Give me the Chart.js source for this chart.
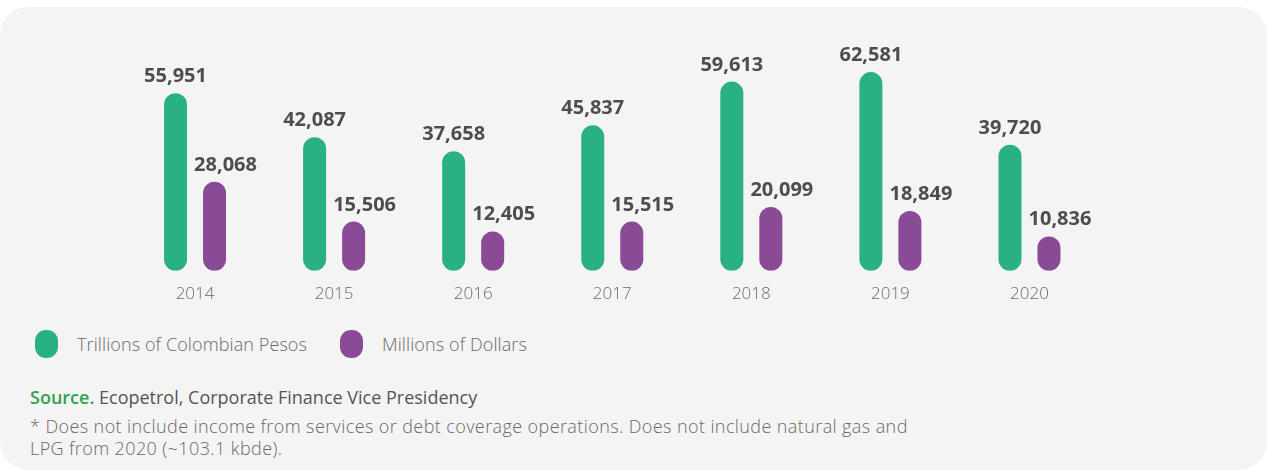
<!DOCTYPE html>
<html>
<head>
<meta charset="utf-8">
<script src="https://cdn.jsdelivr.net/npm/chart.js@4"></script>
<style>
  html, body { margin: 0; padding: 0; background: #ffffff; width: 1267px; height: 470px; overflow: hidden; font-family: "Open Sans", sans-serif; }
  #card { position: absolute; left: 0; top: 7px; width: 1267px; height: 463px; background: #f4f4f4; border-radius: 28px; }
  #chartWrap { position: absolute; left: 0; top: 0; width: 1267px; height: 325px; }
  #legend { position: absolute; left: 35px; top: 330px; display: flex; align-items: center; }
  .lg-item { display: flex; align-items: center; margin-right: 33px; }
  .lg-swatch { width: 23px; height: 28px; border-radius: 11px; margin-right: 19px; }
  .lg-text { font-size: 18px; color: #6a6a6a; font-weight: 300; letter-spacing: 0.1px; }
  #source { position: absolute; left: 30px; top: 385px; font-size: 18px; color: #555; }
  #source b { color: #2ea24e; font-weight: 600; }
  #note { position: absolute; left: 30px; top: 415px; font-size: 18px; line-height: 22px; color: #6a6a6a; font-weight: 300; width: 920px; letter-spacing: 0.4px; }
</style>
</head>
<body>
<div id="card"></div>
<div id="chartWrap"><canvas id="c" width="1267" height="325"></canvas></div>
<div id="legend"></div>
<div id="source"><b>Source.</b> Ecopetrol, Corporate Finance Vice Presidency</div>
<div id="note">* Does not include income from services or debt coverage operations. Does not include natural gas and<br>LPG from 2020 (~103.1 kbde).</div>
<script>
const years = ["2014", "2015", "2016", "2017", "2018", "2019", "2020"];
const pesos = [55951, 42087, 37658, 45837, 59613, 62581, 39720];
const dollars = [28068, 15506, 12405, 15515, 20099, 18849, 10836];
const seriesNames = ["Trillions of Colombian Pesos", "Millions of Dollars"];
const seriesColors = ["#2ab182", "#8a4a96"];

const labelPlugin = {
  id: 'valueLabels',
  afterDatasetsDraw(chart) {
    const ctx = chart.ctx;
    ctx.save();
    ctx.font = 'bold 20px "Open Sans", sans-serif';
    ctx.fillStyle = '#4d4d4d';
    ctx.textAlign = 'center';
    ctx.textBaseline = 'alphabetic';
    chart.data.datasets.forEach((ds, di) => {
      const meta = chart.getDatasetMeta(di);
      meta.data.forEach((bar, i) => {
        const v = ds.data[i];
        const txt = v.toLocaleString('en-US');
        const dx = di === 1 ? 11 : 0;
        ctx.fillText(txt, bar.x + dx, bar.y - 11);
      });
    });
    ctx.restore();
  }
};

const chart = new Chart(document.getElementById('c'), {
  type: 'bar',
  data: {
    labels: years,
    datasets: [
      { label: seriesNames[0], data: pesos, backgroundColor: seriesColors[0], borderRadius: 12, borderSkipped: false },
      { label: seriesNames[1], data: dollars, backgroundColor: seriesColors[1], borderRadius: 12, borderSkipped: false }
    ]
  },
  options: {
    responsive: false,
    animation: false,
    devicePixelRatio: 1,
    categoryPercentage: 0.561,
    barPercentage: 0.59,
    layout: { padding: { left: 125.5, right: 168, top: 40, bottom: 7.8 } },
    plugins: { legend: { display: false }, tooltip: { enabled: false } },
    scales: {
      x: {
        grid: { display: false, drawTicks: false },
        border: { display: false },
        ticks: { padding: 13, color: '#6a6a6a', font: { family: '"Open Sans", sans-serif', size: 17, weight: 300 } }
      },
      y: { display: false, min: 0, max: 72700 }
    }
  },
  plugins: [labelPlugin]
});

const legend = document.getElementById('legend');
chart.data.datasets.forEach(ds => {
  const item = document.createElement('div');
  item.className = 'lg-item';
  const sw = document.createElement('div');
  sw.className = 'lg-swatch';
  sw.style.background = ds.backgroundColor;
  const tx = document.createElement('span');
  tx.className = 'lg-text';
  tx.textContent = ds.label;
  item.appendChild(sw);
  item.appendChild(tx);
  legend.appendChild(item);
});
</script>
</body>
</html>
